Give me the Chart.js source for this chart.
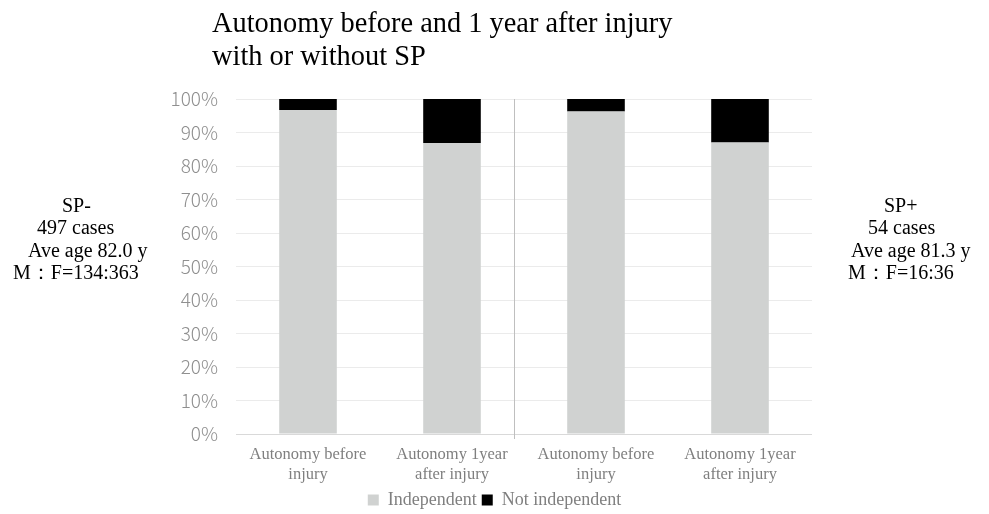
<!DOCTYPE html>
<html>
<head>
<meta charset="utf-8">
<script src="https://cdn.jsdelivr.net/npm/chart.js@4"></script>
<style>
  body { margin: 0; background: #fff; overflow: hidden; }
  #wrap { position: relative; width: 989px; height: 514px; overflow: hidden; }
  #myChart { position: absolute; left: 0; top: 0; }
  #title { position: absolute; left: 212px; top: 6px; font: 28.4px "Liberation Serif", serif; color: #000; line-height: 33px; }
  .side { position: absolute; font: 20px "Liberation Serif", serif; color: #000; white-space: pre; line-height: 22px; }
</style>
</head>
<body>
<div id="wrap">
  <canvas id="myChart" width="989" height="519"></canvas>
  <div id="title">Autonomy before and 1 year after injury<br>with or without SP</div>
  <div class="side" style="left:62px; top:194px">SP-</div>
  <div class="side" style="left:37px; top:216px">497 cases</div>
  <div class="side" style="left:28px; top:239px">Ave age 82.0 y</div>
  <div class="side" style="left:13px; top:261px">M：F=134:363</div>
  <div class="side" style="left:884px; top:194px">SP+</div>
  <div class="side" style="left:868px; top:216px">54 cases</div>
  <div class="side" style="left:851px; top:239px">Ave age 81.3 y</div>
  <div class="side" style="left:848px; top:261px">M：F=16:36</div>
</div>
<script>
const categories = [
    ['Autonomy before', 'injury'],
    ['Autonomy 1year', 'after injury'],
    ['Autonomy before', 'injury'],
    ['Autonomy 1year', 'after injury']
];
const independent = [96.7, 86.9, 96.3, 87.0];
const notIndependent = [3.3, 13.1, 3.7, 13.0];
const yTicks = [0, 10, 20, 30, 40, 50, 60, 70, 80, 90, 100];

// thin line splitting SP- and SP+ groups
const groupSplit = {
    id: 'groupSplit',
    afterDatasetsDraw(chart) {
        const x = chart.scales.x.getPixelForValue(1.43);
        const area = chart.chartArea;
        const ctx = chart.ctx;
        ctx.save();
        ctx.strokeStyle = '#bfbfbf';
        ctx.lineWidth = 1;
        ctx.beginPath();
        ctx.moveTo(Math.round(x) + 0.5, area.top);
        ctx.lineTo(Math.round(x) + 0.5, area.bottom + 5);
        ctx.stroke();
        ctx.restore();
    }
};

const ctx = document.getElementById('myChart').getContext('2d');
const myChart = new Chart(ctx, {
    type: 'bar',
    data: {
        labels: categories,
        datasets: [{
            label: 'Independent',
            data: independent,
            backgroundColor: '#d0d2d1',
            barPercentage: 0.4,
            categoryPercentage: 1
        }, {
            label: 'Not independent',
            data: notIndependent,
            backgroundColor: '#000000',
            barPercentage: 0.4,
            categoryPercentage: 1
        }]
    },
    options: {
        responsive: false,
        animation: false,
        layout: { padding: { top: 99, right: 0, left: 0, bottom: 0 } },
        scales: {
            x: {
                stacked: true,
                grid: { display: false, drawTicks: false },
                border: { display: false },
                ticks: {
                    color: '#7f7f7f',
                    font: { family: 'Liberation Serif', size: 16.5, lineHeight: 1.2 },
                    padding: 11,
                    maxRotation: 0,
                    autoSkip: false
                },
                afterFit(scale) { scale.height = 52; }
            },
            y: {
                stacked: true,
                min: 0,
                max: 100,
                afterBuildTicks(scale) { scale.ticks = yTicks.map(v => ({ value: v })); },
                grid: {
                    drawTicks: false,
                    color: c => c.tick && c.tick.value === 0 ? '#d9d9d9' : '#ebebeb'
                },
                border: { display: false },
                ticks: {
                    color: '#8f8f8f',
                    font: { family: 'Noto Sans CJK JP', size: 19, weight: '300' },
                    padding: 18,
                    callback: v => v + '%'
                },
                afterFit(scale) { scale.width = 236; }
            },
            // empty right axis that reserves the space for the SP+ note
            yRight: {
                position: 'right',
                min: 0,
                max: 100,
                grid: { display: false, drawTicks: false },
                border: { display: false },
                ticks: { display: false },
                afterFit(scale) { scale.width = 177; }
            }
        },
        plugins: {
            legend: {
                position: 'bottom',
                labels: {
                    color: '#7f7f7f',
                    font: { family: 'Liberation Serif', size: 18 },
                    boxWidth: 11,
                    boxHeight: 11,
                    padding: 5
                }
            },
            tooltip: { enabled: false }
        }
    },
    plugins: [groupSplit]
});
</script>
</body>
</html>
